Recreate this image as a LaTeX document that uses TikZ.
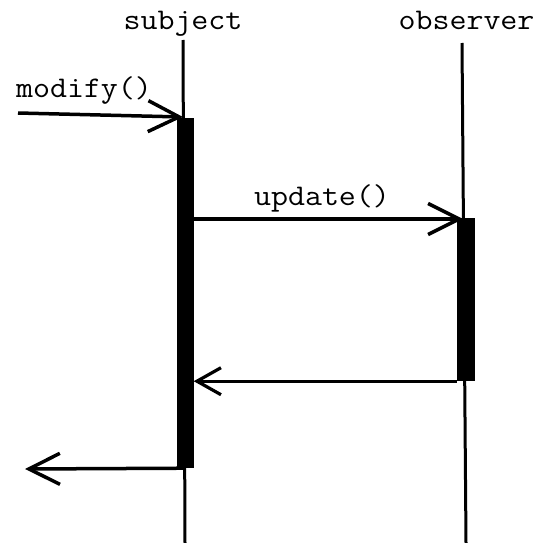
\documentclass[tikz,border=0pt]{standalone}
\usepackage{graphicx}
\usetikzlibrary{arrows.meta}
\newcommand{\wtt}[1]{\scalebox{1.1}[1]{\ttfamily\fontsize{30}{30}\selectfont #1}}
\begin{document}
\begin{tikzpicture}[x=1pt,y=-1pt,
  lbl/.style={inner sep=0pt, anchor=base},
  life/.style={line width=3pt},
  actbar/.style={fill=black, draw=none, inner sep=0pt, minimum width=17pt},
  msg/.style={line width=3.5pt, -{Straight Barb[length=31pt, width=31pt, line width=3.5pt]}},
  retmsg/.style={line width=3pt, -{Straight Barb[length=24pt, width=27pt, line width=3.2pt]}}
]
\useasboundingbox (0,0) rectangle (538,543);
% lifeline heads
\node[lbl] (subj) at (183,29.5) {\wtt{subject}};
\node[lbl] (obs) at (466.5,29.5) {\wtt{observer}};
% lifelines
\coordinate (subjtop) at (183,40);
\coordinate (subjbot) at (185,543);
\coordinate (obstop) at (462,43);
\coordinate (obsbot) at (466,543);
\draw[life] (subjtop) -- (subjbot);
\draw[life] (obstop) -- (obsbot);
% activation bars
\node[actbar, minimum height=350pt] (subjbar) at (185,293) {};
\node[actbar, minimum width=18pt, minimum height=163pt] (obsbar) at (466,299.5) {};
% messages
\coordinate (in) at (18,113);
\coordinate (out) at (25,469);
\draw[msg] (in) -- (183,117);
\node[lbl] (modlbl) at (84,97.5) {\wtt{modify()}};
\draw[msg] (subjbar.east |- 0,219) -- (463,219);
\node[lbl] (updlbl) at (322,205.5) {\wtt{update()}};
\draw[retmsg] (obsbar.south west) -- (subjbar.east |- obsbar.south west);
\draw[msg] (subjbar.south) -- (out);
\end{tikzpicture}
\end{document}
